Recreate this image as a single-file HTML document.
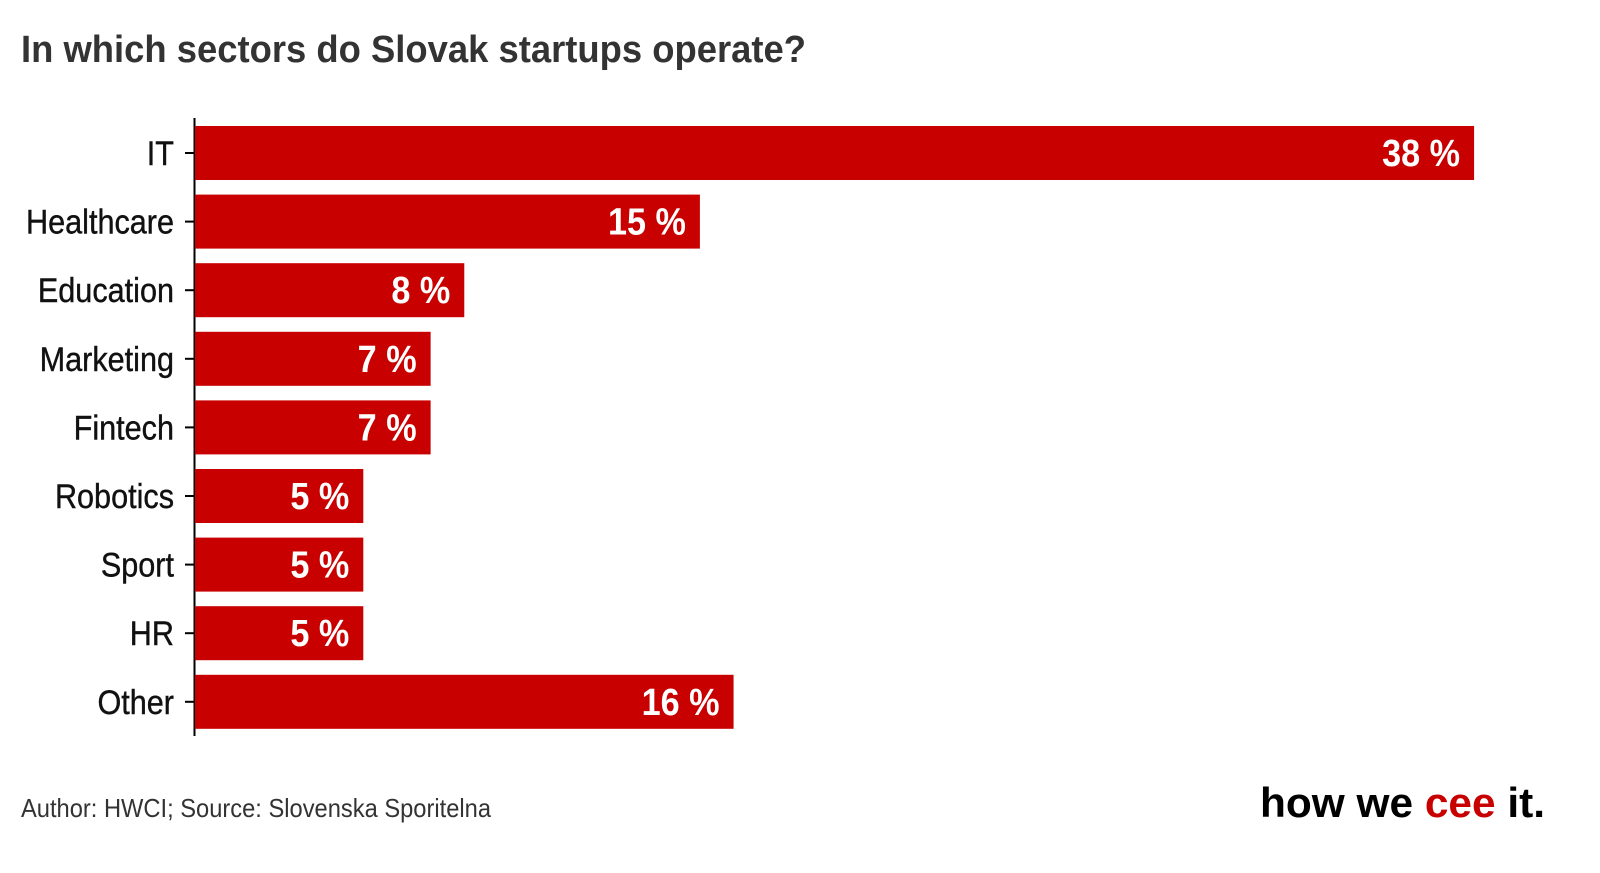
<!DOCTYPE html>
<html><head><meta charset="utf-8"><style>
body{margin:0;background:#fff;width:1600px;height:868px;overflow:hidden}
svg text{font-family:"Liberation Sans Narrow","Liberation Sans",sans-serif}
</style></head><body>
<svg id="chart" width="1600" height="868">
<text x="21" y="62" font-size="38" font-weight="bold" fill="#333" textLength="785" lengthAdjust="spacingAndGlyphs">In which sectors do Slovak startups operate?</text>
<line x1="194.5" y1="118" x2="194.5" y2="736" stroke="#000" stroke-width="2"/>
<g id="bars"></g>
<text x="21" y="817" font-size="26" fill="#333" textLength="470" lengthAdjust="spacingAndGlyphs">Author: HWCI; Source: Slovenska Sporitelna</text>
<text x="1260" y="817" font-size="42" font-weight="bold" fill="#000" textLength="285" lengthAdjust="spacingAndGlyphs">how we <tspan fill="#c80000">cee</tspan> it.</text>
</svg>
<script>
const categories=["IT","Healthcare","Education","Marketing","Fintech","Robotics","Sport","HR","Other"];
const values=[38,15,8,7,7,5,5,5,16];
const x0=195, pxPer=33.66, barTop=126, step=68.6, bh=54;
const xs=v=>x0+v*pxPer;
const ys=i=>barTop+i*step;
const g=document.getElementById('bars');
const NS="http://www.w3.org/2000/svg";
function squeeze(el,f){const w=el.getComputedTextLength();el.setAttribute('textLength',w*f);el.setAttribute('lengthAdjust','spacingAndGlyphs');}
categories.forEach((c,i)=>{
  const y=ys(i);
  const r=document.createElementNS(NS,'rect');
  r.setAttribute('x',x0);r.setAttribute('y',y);r.setAttribute('width',xs(values[i])-x0);r.setAttribute('height',bh);r.setAttribute('fill','#c80000');
  
  
  g.appendChild(r);
  const t=document.createElementNS(NS,'line');
  t.setAttribute('x1',185);t.setAttribute('x2',194);t.setAttribute('y1',y+bh/2);t.setAttribute('y2',y+bh/2);t.setAttribute('stroke','#000');t.setAttribute('stroke-width',2);
  
  
  g.appendChild(t);
  const l=document.createElementNS(NS,'text');
  l.setAttribute('x',174);l.setAttribute('y',y+bh/2+12);l.setAttribute('text-anchor','end');l.setAttribute('font-size','34');l.setAttribute('fill','#111');l.setAttribute('stroke','#111');l.setAttribute('stroke-width','0.4');
  l.textContent=c;
  
  
  g.appendChild(l);
  squeeze(l,0.9);
  const v=document.createElementNS(NS,'text');
  v.setAttribute('x',xs(values[i])-14);v.setAttribute('y',y+bh/2+13);v.setAttribute('text-anchor','end');v.setAttribute('font-size','38');v.setAttribute('font-weight','bold');v.setAttribute('fill','#fff');
  v.textContent=values[i]+' %';
  
  
  g.appendChild(v);
  squeeze(v,0.9);
});
</script>
</body></html>
